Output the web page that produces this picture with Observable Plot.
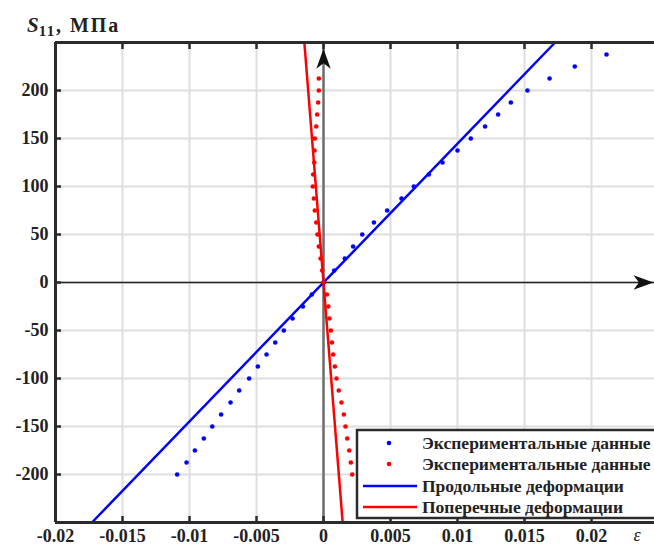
<!DOCTYPE html>
<html><head><meta charset="utf-8">
<script src="https://cdn.jsdelivr.net/npm/d3@7"></script>
<script src="https://cdn.jsdelivr.net/npm/@observablehq/plot@0.6"></script>
<style>
html,body{margin:0;padding:0;background:#fff;overflow:hidden}
</style></head><body><div id="chart"></div>
<script>
// ---- data ----
const xTicks = [-0.02, -0.015, -0.01, -0.005, 0, 0.005, 0.01, 0.015, 0.02];
const yTicks = [-200, -150, -100, -50, 0, 50, 100, 150, 200];
const xDomain = [-0.02, 0.0247];
const yDomain = [-250, 250];

// experimental points, longitudinal strain (blue)
const blueStress = [-200, -187.5, -175, -162.5, -150, -137.5, -125, -112.5, -100, -87.5, -75, -62.5, -50, -37.5, -25, -12.5, 0,
  12.5, 25, 37.5, 50, 62.5, 75, 87.5, 100, 112.5, 125, 137.5, 150, 162.5, 175, 187.5, 200, 212.5, 225, 237.5];
const blueStrain = [-0.01092, -0.01022, -0.0096, -0.00893, -0.0083, -0.00764, -0.00694, -0.00629, -0.00555, -0.0049, -0.00425, -0.0036, -0.00296, -0.00231, -0.00154, -0.00087, 0,
  0.0008, 0.00159, 0.00221, 0.00289, 0.00376, 0.00475, 0.00582, 0.00674, 0.00786, 0.00888, 0.01, 0.01099, 0.01206, 0.01303, 0.01398, 0.01522, 0.01687, 0.01875, 0.02112];

// experimental points, transverse strain (red)
const redStress = [-200, -187.5, -175, -162.5, -150, -137.5, -125, -112.5, -100, -87.5, -75, -62.5, -50, -37.5, -25, -12.5, 0,
  12.5, 25, 37.5, 50, 62.5, 75, 87.5, 100, 112.5, 125, 137.5, 150, 162.5, 175, 187.5, 200, 212.5];
const redStrain = [0.00214, 0.00204, 0.00192, 0.00177, 0.00164, 0.00152, 0.00134, 0.00114, 0.00097, 0.00085, 0.00072, 0.00063, 0.00055, 0.00045, 0.00036, 0.00025, 0,
  -0.0001, -0.00022, -0.00035, -0.00045, -0.00054, -0.00065, -0.00072, -0.0008, -0.00077, -0.00069, -0.00067, -0.00065, -0.00054, -0.00047, -0.0004, -0.00035, -0.00035];

// fitted lines
const longLineStress = [-250, 250];
const longLineStrain = [-0.01728, 0.01728];
const transLineStress = [-250, 250];
const transLineStrain = [0.00143, -0.00143];

// axis arrowheads
const vArrowStress = [233];
const hArrowStrain = [0.02388];

const legendLabels = ["Экспериментальные данные", "Экспериментальные данные", "Продольные деформации", "Поперечные деформации"];
const legendColors = ["#0000ff", "#ff0000", "#0000ff", "#ff0000"];
const legendKinds = ["dot", "dot", "line", "line"];

// ---- tables ----
const blue = blueStress.map((s, i) => ({stress: s, strain: blueStrain[i]}));
const red = redStress.map((s, i) => ({stress: s, strain: redStrain[i]}));
const longLine = longLineStress.map((s, i) => ({stress: s, strain: longLineStrain[i]}));
const transLine = transLineStress.map((s, i) => ({stress: s, strain: transLineStrain[i]}));

const stealth = {
  draw(ctx, size) {
    const r = Math.sqrt(size / Math.PI);
    ctx.moveTo(0, -r);
    ctx.lineTo(0.72 * r, r);
    ctx.lineTo(0, 0.45 * r);
    ctx.lineTo(-0.72 * r, r);
    ctx.closePath();
  }
};

const frameColor = "#2b2b2b";
const font = "'Liberation Serif', 'Times New Roman', serif";

const plot = Plot.plot({
  width: 654,
  height: 547,
  marginLeft: 55,
  marginRight: 0,
  marginTop: 42,
  marginBottom: 25,
  x: {domain: xDomain},
  y: {domain: yDomain},
  style: {fontFamily: font, fontSize: "18px", fontWeight: "bold", color: "#222", background: "#fff", overflow: "hidden"},
  marks: [
    Plot.gridX(xTicks, {stroke: "#dedede", strokeOpacity: 1, strokeWidth: 2}),
    Plot.gridY(yTicks, {stroke: "#dedede", strokeOpacity: 1, strokeWidth: 2}),
    Plot.ruleY([0], {stroke: "#222", strokeWidth: 1.5}),
    Plot.ruleX([0], {stroke: "#6e6e6e", strokeWidth: 2.5}),
    Plot.line(longLine, {x: "strain", y: "stress", stroke: "#0000ff", strokeWidth: 2.5}),
    Plot.line(transLine, {x: "strain", y: "stress", stroke: "#ff0000", strokeWidth: 2.5}),
    Plot.dot(blue, {x: "strain", y: "stress", r: 2.3, fill: "#0000ff"}),
    Plot.dot(red, {x: "strain", y: "stress", r: 2.3, fill: "#ff0000"}),
    Plot.dot(vArrowStress, {x: () => 0, y: d => d, r: 10, symbol: stealth, fill: "#111"}),
    Plot.dot(hArrowStrain, {x: d => d, y: () => 0, r: 10, symbol: stealth, rotate: 90, fill: "#111"}),
    Plot.ruleX([xDomain[0]], {stroke: frameColor, strokeWidth: 3}),
    Plot.ruleY(yDomain, {stroke: frameColor, strokeWidth: 3}),
    Plot.axisX(xTicks, {anchor: "bottom", tickSize: -6, tickPadding: 13, strokeWidth: 2.5, stroke: frameColor,
      tickFormat: d => String(d), label: null, fontWeight: "bold"}),
    Plot.axisX(xTicks, {anchor: "top", tickSize: -6, tickPadding: 0, strokeWidth: 2.5, stroke: frameColor,
      tickFormat: () => "", label: null}),
    Plot.axisY(yTicks, {anchor: "left", tickSize: -6, tickPadding: 13, strokeWidth: 2.5, stroke: frameColor,
      tickFormat: d => String(d), label: null, fontWeight: "bold"}),
    Plot.text(["ε"], {frameAnchor: "bottom-right", dx: -14, dy: 18, fontStyle: "italic", fontWeight: "normal", fontSize: 18})
  ]
});

const svg = d3.select(plot);

// title
const t = svg.append("text").attr("x", 27).attr("y", 32).attr("text-anchor", "start")
  .attr("font-family", font).attr("font-size", 21).attr("fill", "#222");
t.append("tspan").attr("font-style", "italic").attr("font-weight", "bold").text("S");
t.append("tspan").attr("font-size", 15).attr("font-weight", "bold").attr("dy", 4).attr("letter-spacing", 1.5).text("11");
t.append("tspan").attr("dy", -4).attr("font-size", 20).attr("font-weight", "bold").attr("letter-spacing", 2).text(", МПа");

// legend
const lg = svg.append("g").attr("font-family", font).attr("font-size", 17.5).attr("font-weight", "bold")
  .attr("text-anchor", "start");
lg.append("rect").attr("x", 357).attr("y", 430).attr("width", 320).attr("height", 88)
  .attr("fill", "#fff").attr("stroke", frameColor).attr("stroke-width", 2.5);
const rowY = [443, 464, 486, 507];
legendLabels.forEach((label, i) => {
  if (legendKinds[i] === "dot") {
    lg.append("circle").attr("cx", 389).attr("cy", rowY[i]).attr("r", 2.3).attr("fill", legendColors[i]);
  } else {
    lg.append("line").attr("x1", 363).attr("x2", 417).attr("y1", rowY[i]).attr("y2", rowY[i])
      .attr("stroke", legendColors[i]).attr("stroke-width", 2.5);
  }
  lg.append("text").attr("x", 422).attr("y", rowY[i]).attr("dy", "0.35em").attr("fill", "#222").text(label);
});

document.getElementById("chart").appendChild(plot);
</script>
</body></html>
